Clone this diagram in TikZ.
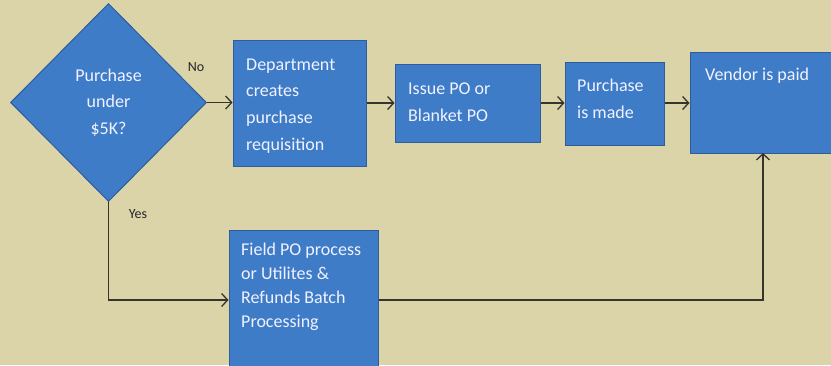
\documentclass[tikz,border=0pt]{standalone}
\usepackage{fontspec}
\setmainfont{Carlito}
\usetikzlibrary{shapes.geometric,arrows.meta}
\definecolor{bg}{RGB}{218,212,168}
\definecolor{boxfill}{RGB}{62,124,200}
\definecolor{boxline}{RGB}{46,92,156}
\definecolor{linec}{RGB}{55,52,45}
\tikzset{
  blue box/.style={draw=boxline, line width=1pt, fill=boxfill, inner sep=0pt},
  box text/.style={text=white!95!blue, font=\fontsize{18}{26.7}\selectfont, align=left, anchor=north west, inner sep=0pt},
  small label/.style={text=black!85, font=\fontsize{14}{16}\selectfont, inner sep=0pt},
  conn/.style={draw=linec, line width=1.4pt, -{Straight Barb[length=6pt,width=13pt,line width=1.3pt]}},
  plain conn/.style={draw=linec, line width=1.4pt}
}
\begin{document}
\begin{tikzpicture}[x=1pt,y=-1pt]
\fill[bg] (0,0) rectangle (831,365);
\useasboundingbox (0,0) rectangle (831,365);
% diamond
\node[blue box, shape=diamond, minimum width=196pt, minimum height=198pt, text=white!95!blue,
      font=\fontsize{18}{26.5}\selectfont, align=center] (dec) at (108.5,102.5) {Purchase\\under\\\$5K?};
% boxes
\node[blue box, minimum width=133pt, minimum height=126pt] (dept) at (299.5,103) {};
\node[blue box, minimum width=145pt, minimum height=78pt] (issue) at (467.5,103) {};
\node[blue box, minimum width=99pt, minimum height=83pt] (made) at (614.5,103.5) {};
\node[blue box, minimum width=150pt, minimum height=101pt] (vendor) at (765,102.5) {};
\node[blue box, minimum width=149pt, minimum height=140pt] (field) at (303.5,300) {};
% texts
\node[box text] (deptT) at (246,58.5) {Department\\creates\\purchase\\requisition};
\node[box text] (issueT) at (408,82.5) {Issue PO or\\Blanket PO};
\node[box text] (madeT) at (577,79) {Purchase\\is made};
\node[box text] (vendorT) at (705,67.5) {Vendor is paid};
\node[box text, font=\fontsize{18}{24}\selectfont] (fieldT) at (241,242.5) {Field PO process\\or Utilites \&\\Refunds Batch\\Processing};
% labels
\node[small label] (no) at (196,67) {No};
\node[small label] (yes) at (138,214) {Yes};
% connectors
\coordinate (yesbend) at (dec.south |- field.west);
\coordinate (fieldout) at (field.east);
\coordinate (vbend) at (763,300);
\coordinate (vbottom) at (763,153);
\draw[conn] (dec.east) -- (dept.west |- dec.east);
\draw[conn] (dept.east |- issue.west) -- (issue.west);
\draw[conn] (issue.east) -- (made.west |- issue.east);
\draw[conn] (made.east |- issue.east) -- (vendor.west |- issue.east);
\draw[conn] (dec.south) -- (yesbend) -- (field.west);
\draw[conn] (fieldout) -- (vbend) -- (vbottom);
\end{tikzpicture}
\end{document}
